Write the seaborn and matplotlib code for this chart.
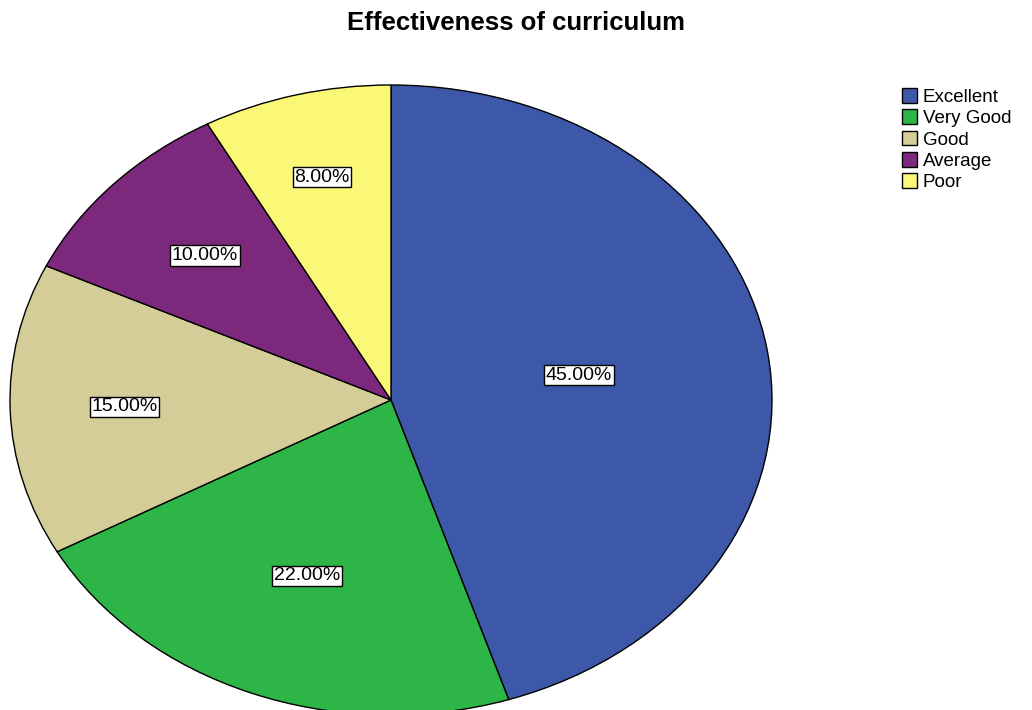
import matplotlib
matplotlib.use("Agg")
import matplotlib.pyplot as plt
import seaborn as sns
import numpy as np

categories = ["Excellent", "Very Good", "Good", "Average", "Poor"]
values = [45.0, 22.0, 15.0, 10.0, 8.0]
pct_labels = ["45.00%", "22.00%", "15.00%", "10.00%", "8.00%"]
title = "Effectiveness of curriculum"

colors = ["#3D58A9", "#2DB547", "#D4CD97", "#7C297D", "#FBF777"]
label_radius = [0.5, 0.6, 0.7, 0.67, 0.73]

sns.set_theme(style="white")
plt.rcParams["font.family"] = ["Liberation Sans", "DejaVu Sans"]
plt.rcParams["text.color"] = "black"

fig = plt.figure(figsize=(10.32, 7.10), dpi=100)
ax = fig.add_axes([10 / 1032, -5 / 710, 762 / 1032, 630 / 710])

wedges, _ = ax.pie(values, colors=colors, startangle=90, counterclock=False,
                   radius=1.0, wedgeprops=dict(edgecolor="black", linewidth=1.0))
ax.set_aspect("auto")
ax.set_xlim(-1, 1)
ax.set_ylim(-1, 1)
ax.axis("off")

for w, lab, r in zip(wedges, pct_labels, label_radius):
    th = np.deg2rad((w.theta1 + w.theta2) / 2)
    ax.text(r * np.cos(th), r * np.sin(th), lab, ha="center", va="center",
            fontsize=14, color="black",
            bbox=dict(boxstyle="square,pad=0.08", fc="white", ec="black", lw=1.0))

fig.text(0.5, 1 - 23 / 710, title, ha="center", va="center",
         fontsize=18.5, fontweight="bold", color="black")

leg = fig.legend(wedges, categories, loc="upper left",
                 bbox_to_anchor=(902 / 1032, 1 - 88 / 710), frameon=False,
                 fontsize=13.5, handlelength=0.82, handleheight=0.82,
                 handletextpad=0.3, labelspacing=0.19, borderpad=0,
                 borderaxespad=0)
for t in leg.get_texts():
    t.set_color("black")
for h in leg.legend_handles:
    h.set_edgecolor("black")
    h.set_linewidth(1.0)

fig.savefig("out.png", dpi=100)
